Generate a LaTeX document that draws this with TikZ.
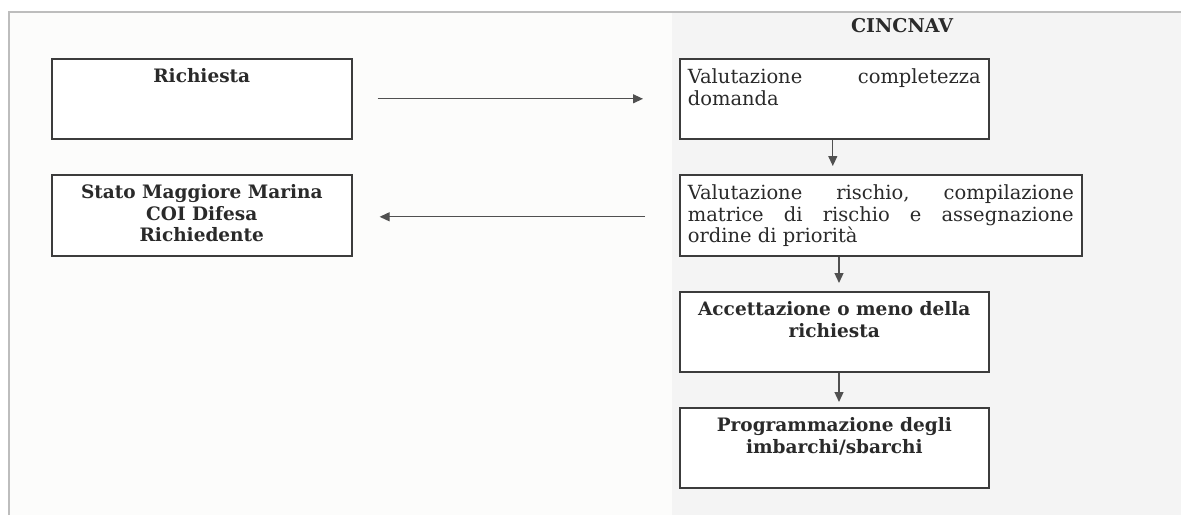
\documentclass[tikz,border=0pt]{standalone}
\usepackage{fontspec}
\setmainfont{DejaVu Serif}
\usetikzlibrary{arrows.meta}
\definecolor{leftbg}{HTML}{FCFCFB}
\definecolor{rightbg}{HTML}{F4F4F4}
\definecolor{frameln}{HTML}{BDBDBD}
\definecolor{boxln}{HTML}{3C3C3C}
\definecolor{arrln}{HTML}{505050}
\definecolor{txt}{HTML}{2A2A2A}
\tikzset{
  flowbox/.style={draw=boxln, line width=1.6pt, fill=white, inner sep=0pt, anchor=north west, text=txt},
  flowarrow/.style={draw=arrln, line width=1.2pt, -{Triangle[length=10pt,width=9pt]}, color=arrln},
  title/.style={font=\fontsize{19}{21}\selectfont\bfseries, inner sep=0pt, text=txt}
}
\newcommand{\boxcenter}[3]{\begin{minipage}[t][#2pt][t]{#1pt}\fontsize{18.5}{21.5}\selectfont\vspace*{10pt}\centering\bfseries #3\end{minipage}}
\newcommand{\boxjust}[3]{\begin{minipage}[t][#2pt][t]{#1pt}\fontsize{19.5}{21.5}\selectfont\vspace*{10pt}\leftskip=8pt\rightskip=8pt\noindent #3\end{minipage}}
\begin{document}
\begin{tikzpicture}[x=1pt,y=-1pt]
\useasboundingbox (0,0) rectangle (1181,515);
% backgrounds
\fill[white] (0,0) rectangle (1181,515);
\fill[leftbg] (9,12) rectangle (672,515);
\fill[rightbg] (672,12) rectangle (1181,515);
\draw[frameln, line width=2pt] (9,515) -- (9,12) -- (1181,12);
% title
\node[title] (cinc) at (902,26) {CINCNAV};
% left boxes
\node[flowbox] (ric) at (51,58) {\boxcenter{300}{80}{Richiesta}};
\node[flowbox] (smm) at (51,174) {\boxcenter{300}{81}{Stato Maggiore Marina\\COI Difesa\\Richiedente}};
% right boxes
\node[flowbox] (v1) at (679,58) {\boxjust{309}{80}{Valutazione\hfill completezza\\domanda}};
\node[flowbox] (v2) at (679,174) {\boxjust{402}{81}{Valutazione\hfill rischio,\hfill compilazione\\matrice\hfill di\hfill rischio\hfill e\hfill assegnazione\\ordine di priorità}};
\node[flowbox] (acc) at (679,291) {\boxcenter{309}{80}{Accettazione o meno della\\richiesta}};
\node[flowbox] (prog) at (679,407) {\boxcenter{309}{80}{Programmazione degli\\imbarchi/sbarchi}};
% connectors
\coordinate (a1s) at ([xshift=25pt]ric.east);
\coordinate (a1e) at ([xshift=-36pt]v1.west);
\draw[flowarrow] (a1s) -- (a1e |- a1s);
\coordinate (a2s) at ([xshift=-34pt,yshift=-1.5pt]v2.west);
\coordinate (a2e) at ([xshift=27pt]smm.east);
\draw[flowarrow] (a2s) -- (a2e |- a2s);
\draw[flowarrow] ([xshift=-1.5pt]v1.south) -- ([xshift=-1.5pt,yshift=8pt]v1.south |- v2.north);
\coordinate (cx) at (839,0);
\draw[flowarrow] (cx |- v2.south) -- ([yshift=8pt]cx |- acc.north);
\draw[flowarrow] (cx |- acc.south) -- ([yshift=5pt]cx |- prog.north);
\end{tikzpicture}
\end{document}
